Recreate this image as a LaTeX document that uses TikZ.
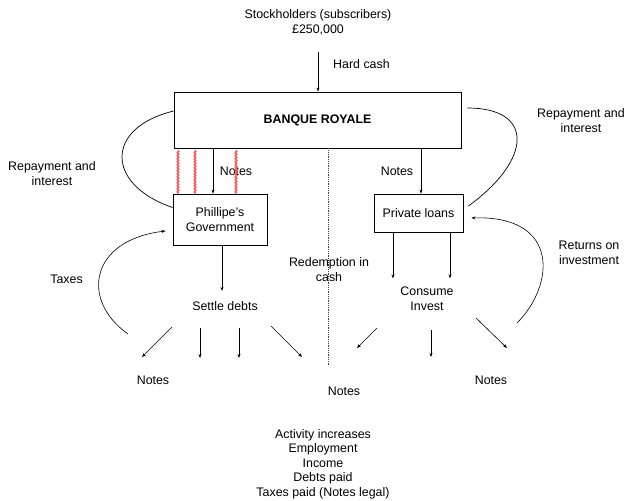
\documentclass[tikz,border=0pt]{standalone}
\usepackage{fontspec}
\setmainfont{Liberation Sans}
\usetikzlibrary{arrows.meta,decorations.pathmorphing}
\begin{document}
\begin{tikzpicture}[x=1pt,y=-1pt,
  font=\fontsize{12.4}{15}\selectfont,
  box/.style={draw, line width=0.8pt, inner sep=0pt, align=center},
  lbl/.style={align=center, inner sep=0pt},
  arr/.style={-{Stealth[length=4pt,width=3pt]}, line width=0.6pt},
  crv/.style={line width=0.7pt},
  wav/.style={draw=red!65, line width=1.6pt, decorate,
    decoration={snake, amplitude=0.7pt, segment length=3pt}},
  dots/.style={line width=0.8pt, densely dotted, black!75}]
\useasboundingbox (0,0) rectangle (627,501);

% boxes
\node[box, minimum width=287pt, minimum height=56pt] (bank) at (317.5,120) {\textbf{BANQUE ROYALE}};
\node[box, minimum width=94pt, minimum height=51pt] (gov) at (220,219.5) {Phillipe’s\\Government};
\node[box, minimum width=89pt, minimum height=38pt] (priv) at (418.5,213) {Private loans};

% labels
\node[lbl] (stock) at (318,22.5) {Stockholders (subscribers)\\£250,000};
\node[lbl, anchor=west] (hardcash) at (333,64) {Hard cash};
\node[lbl] (notesL) at (236,171) {Notes};
\node[lbl] (notesR) at (397,171) {Notes};
\node[lbl] (repL) at (52,174) {Repayment and\\interest};
\node[lbl] (repR) at (581,120.5) {Repayment and\\interest};
\node[lbl] (taxes) at (66.5,279) {Taxes};
\node[lbl] (settle) at (225,306) {Settle debts};
\node[lbl] (redeem) at (329,269.5) {Redemption in\\cash};
\node[lbl] (consume) at (427,298.5) {Consume\\Invest};
\node[lbl] (returns) at (589,252.5) {Returns on\\investment};
\node[lbl] (notesA) at (153,380) {Notes};
\node[lbl] (notesB) at (344,391) {Notes};
\node[lbl] (notesC) at (491,380) {Notes};
\node[lbl, font=\fontsize{12.4}{14.5}\selectfont] (activity) at (323,464) {Activity increases\\Employment\\Income\\Debts paid\\Taxes paid (Notes legal)};

% coordinates
\coordinate (hc) at (318,52);
\coordinate (dotend) at (328,366);
\coordinate (tx) at (128,334);
\coordinate (ret) at (517,323);
\coordinate (s1a) at (172,327); \coordinate (s1b) at (142,357);
\coordinate (s2a) at (200,328); \coordinate (s2b) at (200,358);
\coordinate (s3a) at (239,328); \coordinate (s3b) at (239,358);
\coordinate (s4a) at (271,326); \coordinate (s4b) at (302,357);
\coordinate (c1a) at (377,328); \coordinate (c1b) at (357,348);
\coordinate (c2a) at (431,330); \coordinate (c2b) at (431,357);
\coordinate (c3a) at (476,318); \coordinate (c3b) at (507,348);

% connectors
\draw[arr] (hc) -- (hc |- bank.north);
\draw[arr] ([xshift=-7pt]gov.north |- bank.south) -- ([xshift=-7pt]gov.north);
\draw[arr] ([xshift=2.5pt]priv.north |- bank.south) -- ([xshift=2.5pt]priv.north);
\foreach \dx in {-42,-25,16}
  \draw[wav] ([xshift=\dx pt, yshift=-2pt]gov.north |- bank.south) -- ([xshift=\dx pt]gov.north);
\draw[dots] (dotend |- bank.south) -- (dotend);

\draw[crv] ([yshift=9pt]bank.west) .. controls (104,128) and (106,185) .. ([yshift=12pt]gov.west);
\draw[crv] ([xshift=6pt,yshift=12pt]bank.east) .. controls (535,108) and (532,160) .. ([xshift=5pt,yshift=7pt]priv.east);
\draw[crv,arr] (tx) .. controls (80,300) and (90,240) .. ([xshift=-7pt,yshift=-11.5pt]gov.west);
\draw[crv,arr] (ret) .. controls (555,285) and (560,215) .. ([xshift=8pt,yshift=-5pt]priv.east);

\draw[arr] ([xshift=2pt]gov.south) -- ++(0,45.5);
\draw[arr] ([xshift=-25.5pt]priv.south) -- ++(0,46);
\draw[arr] ([xshift=31.5pt]priv.south) -- ++(0,46);

\foreach \p in {s1,s2,s3,s4,c1,c2,c3}
  \draw[arr] (\p a) -- (\p b);
\end{tikzpicture}
\end{document}
